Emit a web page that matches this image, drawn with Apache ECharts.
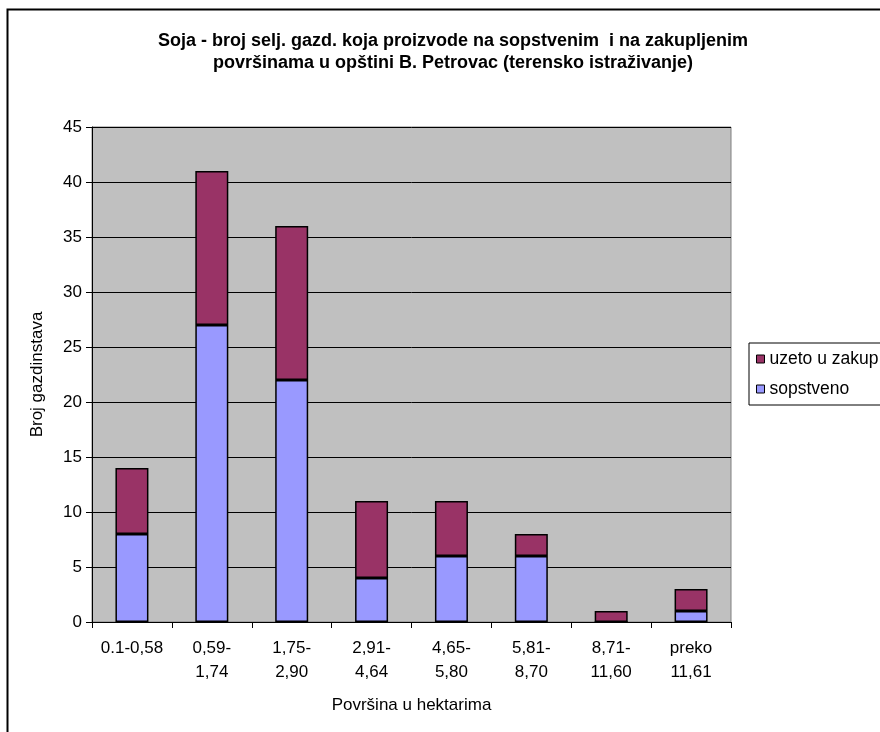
<!DOCTYPE html>
<html>
<head>
<meta charset="utf-8">
<script src="https://cdn.jsdelivr.net/npm/echarts@6/dist/echarts.min.js"></script>
<style>
html,body{margin:0;padding:0;background:#fff;}
#c{width:880px;height:732px;}
</style>
</head>
<body>
<div id="c"></div>
<script>
const categories = ['0.1-0,58', '0,59-\n1,74', '1,75-\n2,90', '2,91-\n4,64', '4,65-\n5,80', '5,81-\n8,70', '8,71-\n11,60', 'preko\n11,61'];
const sopstveno = [8, 27, 22, 4, 6, 6, 0, 1];
const uzetoUZakup = [6, 14, 14, 7, 5, 2, 1, 2];
const yTicks = {min: 0, max: 45, interval: 5};

const FONT = 'Liberation Sans, Arial, sans-serif';
const chart = echarts.init(document.getElementById('c'), null, {renderer: 'canvas'});
chart.setOption({
  animation: false,
  backgroundColor: '#ffffff',
  textStyle: {fontFamily: FONT, color: '#000'},
  graphic: [{
    type: 'rect', left: 5, top: 7, z: -10, silent: true,
    shape: {width: 900, height: 800},
    style: {fill: 'none', stroke: '#000', lineWidth: 2}
  }],
  title: {
    text: 'Soja - broj selj. gazd. koja proizvode na sopstvenim  i na zakupljenim\npovršinama u opštini B. Petrovac (terensko istraživanje)',
    left: 448, top: 25, textAlign: 'center',
    textStyle: {fontFamily: FONT, fontSize: 18, fontWeight: 'bold', color: '#000', lineHeight: 22}
  },
  legend: {
    orient: 'vertical',
    left: 749, top: 343,
    padding: [7, 10, 7, 7],
    itemGap: 12,
    itemWidth: 8, itemHeight: 8,
    icon: 'rect',
    borderColor: '#000', borderWidth: 1,
    textStyle: {fontFamily: FONT, fontSize: 17.5, color: '#000'},
    data: ['uzeto u zakup', 'sopstveno'],
    itemStyle: {borderColor: '#000', borderWidth: 1}
  },
  grid: {
    left: 92, right: 149, top: 127, bottom: 110,
    show: true, backgroundColor: '#C0C0C0', borderColor: '#808080', borderWidth: 1
  },
  xAxis: {
    type: 'category',
    data: categories,
    name: 'Površina u hektarima',
    nameLocation: 'middle',
    nameGap: 75,
    nameTextStyle: {fontFamily: FONT, fontSize: 17, color: '#000'},
    axisLine: {lineStyle: {color: '#000', width: 1}},
    axisTick: {show: true, length: 6, lineStyle: {color: '#000'}},
    axisLabel: {fontFamily: FONT, fontSize: 17, color: '#000', margin: 14, lineHeight: 24, interval: 0}
  },
  yAxis: {
    type: 'value',
    min: yTicks.min, max: yTicks.max, interval: yTicks.interval,
    name: 'Broj gazdinstava',
    nameLocation: 'middle',
    nameGap: 46,
    nameTextStyle: {fontFamily: FONT, fontSize: 17, color: '#000'},
    axisLine: {show: true, lineStyle: {color: '#000', width: 1}},
    axisTick: {show: true, length: 6, lineStyle: {color: '#000'}},
    axisLabel: {fontFamily: FONT, fontSize: 17, color: '#000', margin: 10},
    splitLine: {show: true, lineStyle: {color: '#000', width: 1}}
  },
  series: [
    {
      name: 'sopstveno', type: 'bar', stack: 'a', data: sopstveno, barWidth: 33,
      itemStyle: {color: '#9999FF', borderColor: '#000', borderWidth: 1.5}
    },
    {
      name: 'uzeto u zakup', type: 'bar', stack: 'a', data: uzetoUZakup, barWidth: 33,
      itemStyle: {color: '#993366', borderColor: '#000', borderWidth: 1.5}
    }
  ]
});
</script>
</body>
</html>
